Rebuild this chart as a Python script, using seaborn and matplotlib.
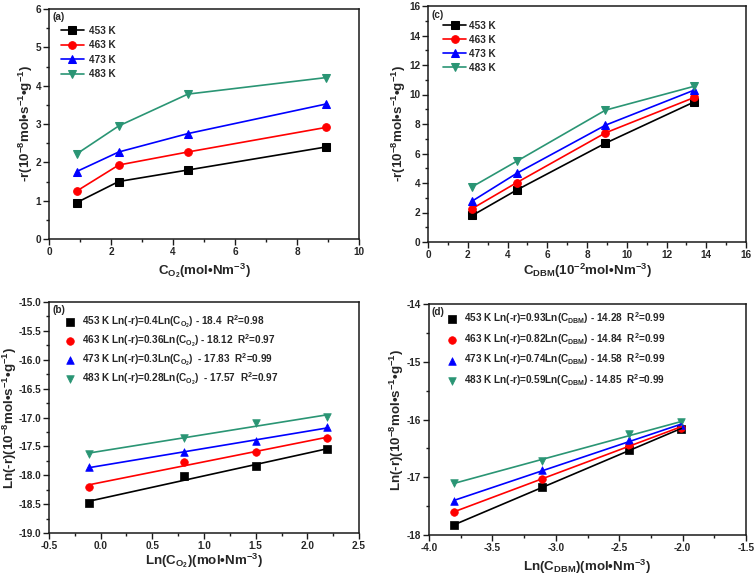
import matplotlib
matplotlib.use("Agg")
import matplotlib.pyplot as plt
import seaborn as sns
import numpy as np
from matplotlib.ticker import MultipleLocator, FormatStrFormatter

sns.set_theme(style="ticks")
plt.rcParams["font.family"] = ["Liberation Sans", "DejaVu Sans"]
plt.rcParams["font.weight"] = "bold"
plt.rcParams["mathtext.fontset"] = "custom"
plt.rcParams["mathtext.rm"] = "Liberation Sans:bold"
plt.rcParams["mathtext.it"] = "Liberation Sans:bold"
plt.rcParams["mathtext.bf"] = "Liberation Sans:bold"
plt.rcParams["mathtext.default"] = "rm"

# ---------------- data ----------------
temps = ["453 K", "463 K", "473 K", "483 K"]
colors = ["#000000", "#ff0000", "#0000ff", "#2a9574"]
markers = ["s", "o", "^", "v"]

c_o2 = [0.893, 2.25, 4.48, 8.93]
rate_o2_453 = [0.95, 1.50, 1.80, 2.40]
rate_o2_463 = [1.25, 1.93, 2.27, 2.91]
rate_o2_473 = [1.76, 2.27, 2.75, 3.52]
rate_o2_483 = [2.22, 2.95, 3.78, 4.21]

c_dbm = [2.23, 4.47, 8.93, 13.4]
rate_dbm_453 = [1.80, 3.53, 6.70, 9.50]
rate_dbm_463 = [2.27, 4.03, 7.40, 9.80]
rate_dbm_473 = [2.78, 4.66, 7.92, 10.30]
rate_dbm_483 = [3.75, 5.48, 8.94, 10.56]

ln_c_o2 = [-0.11, 0.81, 1.50, 2.19]
lnr_o2_453 = [-18.48, -18.02, -17.84, -17.55]
lnr_o2_463 = [-18.20, -17.77, -17.60, -17.36]
lnr_o2_473 = [-17.86, -17.60, -17.40, -17.17]
lnr_o2_483 = [-17.63, -17.35, -17.10, -16.99]

ln_c_dbm = [-3.80, -3.11, -2.42, -2.01]
lnr_dbm_453 = [-17.83, -17.17, -16.52, -16.17]
lnr_dbm_463 = [-17.60, -17.03, -16.44, -16.14]
lnr_dbm_473 = [-17.41, -16.88, -16.36, -16.10]
lnr_dbm_483 = [-17.10, -16.71, -16.25, -16.05]

eq_b = [
    r"453 K Ln(-r)=0.4Ln(C$_{O_2}$) - 18.4  R$^2$=0.98",
    r"463 K Ln(-r)=0.36Ln(C$_{O_2}$) - 18.12  R$^2$=0.97",
    r"473 K Ln(-r)=0.3Ln(C$_{O_2}$)  - 17.83  R$^2$=0.99",
    r"483 K Ln(-r)=0.28Ln(C$_{O_2}$)  - 17.57  R$^2$=0.97",
]
eq_d = [
    r"453 K Ln(-r)=0.93Ln(C$_{DBM}$) - 14.28  R$^2$=0.99",
    r"463 K Ln(-r)=0.82Ln(C$_{DBM}$) - 14.84  R$^2$=0.99",
    r"473 K Ln(-r)=0.74Ln(C$_{DBM}$) - 14.58  R$^2$=0.99",
    r"483 K Ln(-r)=0.59Ln(C$_{DBM}$) - 14.85  R$^2$=0.99",
]

rates_o2 = [rate_o2_453, rate_o2_463, rate_o2_473, rate_o2_483]
rates_dbm = [rate_dbm_453, rate_dbm_463, rate_dbm_473, rate_dbm_483]
lnr_o2 = [lnr_o2_453, lnr_o2_463, lnr_o2_473, lnr_o2_483]
lnr_dbm = [lnr_dbm_453, lnr_dbm_463, lnr_dbm_473, lnr_dbm_483]

W, H = 756, 575
fig = plt.figure(figsize=(W / 100, H / 100), dpi=100)


def box(l, r, t, b):
    return [l / W, (H - b) / H, (r - l) / W, (b - t) / H]


ax_a = fig.add_axes(box(49, 359, 9, 239))
ax_c = fig.add_axes(box(428, 746, 6, 242))
ax_b = fig.add_axes(box(49, 359, 302, 533))
ax_d = fig.add_axes(box(429, 746, 304, 535))

TICK = 7.2
LAB = 9.6


def style(ax, ylx, xly):
    for s in ax.spines.values():
        s.set_linewidth(1.1)
        s.set_color("#1a1a1a")
    ax.tick_params(which="major", direction="out", length=4, width=1.0,
                   labelsize=TICK, top=False, right=False, pad=1.5,
                   color="#1a1a1a")
    ax.tick_params(which="minor", direction="out", length=2.5, width=1.0,
                   top=False, right=False, color="#1a1a1a")
    for lab in ax.get_xticklabels() + ax.get_yticklabels():
        lab.set_fontweight("bold")
    ax.yaxis.set_label_coords(ylx, 0.5)
    ax.xaxis.set_label_coords(0.5, xly)


ylab_rate = r"-r(10$^{-8}$mol•s$^{-1}$•g$^{-1}$)"
ylab_ln = r"Ln(-r)(10$^{-8}$mol•s$^{-1}$•g$^{-1}$)"
leg_prop = {"weight": "bold", "size": TICK}

# ---- (a) ----
for lab, col, mk, y in zip(temps, colors, markers, rates_o2):
    sns.lineplot(x=c_o2, y=y, color=col, marker=mk, markersize=5.5,
                 markeredgecolor=col, linewidth=1.2, label=lab, ax=ax_a)
ax_a.set_xlim(0, 10)
ax_a.set_ylim(0, 6)
ax_a.xaxis.set_major_locator(MultipleLocator(2))
ax_a.xaxis.set_minor_locator(MultipleLocator(1))
ax_a.yaxis.set_major_locator(MultipleLocator(1))
ax_a.yaxis.set_minor_locator(MultipleLocator(0.5))
ax_a.set_xlabel(r"C$_{O_2}$(mol•Nm$^{-3}$)", fontsize=LAB, fontweight="bold")
ax_a.set_ylabel(ylab_rate, fontsize=LAB, fontweight="bold")
ax_a.legend(loc="upper left", bbox_to_anchor=(0.025, 0.945), frameon=False,
            handlelength=2.3, handletextpad=0.55,
            labelspacing=0.45, borderaxespad=0, prop=leg_prop)
ax_a.text(0.012, 0.985, "(a)", transform=ax_a.transAxes, fontsize=TICK,
          fontweight="bold", va="top", ha="left")
style(ax_a, -0.045, -0.095)

# ---- (c) ----
for lab, col, mk, y in zip(temps, colors, markers, rates_dbm):
    sns.lineplot(x=c_dbm, y=y, color=col, marker=mk, markersize=5.5,
                 markeredgecolor=col, linewidth=1.2, label=lab, ax=ax_c)
ax_c.set_xlim(0, 16)
ax_c.set_ylim(0, 16)
ax_c.xaxis.set_major_locator(MultipleLocator(2))
ax_c.xaxis.set_minor_locator(MultipleLocator(1))
ax_c.yaxis.set_major_locator(MultipleLocator(2))
ax_c.yaxis.set_minor_locator(MultipleLocator(1))
ax_c.set_xlabel(r"C$_{DBM}$(10$^{-2}$mol•Nm$^{-3}$)", fontsize=LAB, fontweight="bold")
ax_c.set_ylabel(ylab_rate, fontsize=LAB, fontweight="bold")
ax_c.legend(loc="upper left", bbox_to_anchor=(0.035, 0.955), frameon=False,
            handlelength=2.3, handletextpad=0.3,
            labelspacing=0.4, borderaxespad=0, prop=leg_prop)
ax_c.text(0.012, 0.985, "(c)", transform=ax_c.transAxes, fontsize=TICK,
          fontweight="bold", va="top", ha="left")
style(ax_c, -0.062, -0.085)

# ---- (b) ----
for lab, col, mk, y in zip(eq_b, colors, markers, lnr_o2):
    sns.regplot(x=ln_c_o2, y=y, ci=None, scatter=False, color=col,
                line_kws={"linewidth": 1.2}, ax=ax_b)
    sns.scatterplot(x=ln_c_o2, y=y, color=col, marker=mk, s=30,
                    edgecolor=col, linewidth=0.5, label=lab, ax=ax_b)
ax_b.set_xlim(-0.5, 2.5)
ax_b.set_ylim(-19, -15)
ax_b.xaxis.set_major_locator(MultipleLocator(0.5))
ax_b.xaxis.set_minor_locator(MultipleLocator(0.25))
ax_b.yaxis.set_major_locator(MultipleLocator(0.5))
ax_b.yaxis.set_minor_locator(MultipleLocator(0.25))
ax_b.yaxis.set_major_formatter(FormatStrFormatter("%.1f"))
ax_b.xaxis.set_major_formatter(FormatStrFormatter("%.1f"))
ax_b.set_xlabel(r"Ln(C$_{O_2}$)(mol•Nm$^{-3}$)", fontsize=LAB, fontweight="bold")
ax_b.set_ylabel(ylab_ln, fontsize=LAB, fontweight="bold")
ax_b.legend(loc="upper left", bbox_to_anchor=(0.035, 0.97), frameon=False,
            handlelength=1.2, handletextpad=0.6,
            labelspacing=0.22, borderaxespad=0, prop=leg_prop)
ax_b.text(0.012, 0.985, "(b)", transform=ax_b.transAxes, fontsize=TICK,
          fontweight="bold", va="top", ha="left")
style(ax_b, -0.097, -0.078)

# ---- (d) ----
for lab, col, mk, y in zip(eq_d, colors, markers, lnr_dbm):
    sns.regplot(x=ln_c_dbm, y=y, ci=None, scatter=False, color=col,
                line_kws={"linewidth": 1.2}, ax=ax_d)
    sns.scatterplot(x=ln_c_dbm, y=y, color=col, marker=mk, s=30,
                    edgecolor=col, linewidth=0.5, label=lab, ax=ax_d)
ax_d.set_xlim(-4.0, -1.5)
ax_d.set_ylim(-18, -14)
ax_d.xaxis.set_major_locator(MultipleLocator(0.5))
ax_d.xaxis.set_minor_locator(MultipleLocator(0.25))
ax_d.yaxis.set_major_locator(MultipleLocator(1))
ax_d.yaxis.set_minor_locator(MultipleLocator(0.5))
ax_d.xaxis.set_major_formatter(FormatStrFormatter("%.1f"))
ax_d.yaxis.set_major_formatter(FormatStrFormatter("%d"))
ax_d.set_xlabel(r"Ln(C$_{DBM}$)(mol•Nm$^{-3}$)", fontsize=LAB, fontweight="bold")
ax_d.set_ylabel(ylab_ln, fontsize=LAB, fontweight="bold")
ax_d.legend(loc="upper left", bbox_to_anchor=(0.04, 0.99), frameon=False,
            handlelength=1.2, handletextpad=0.6,
            labelspacing=0.48, borderaxespad=0, prop=leg_prop)
ax_d.text(0.008, 0.985, "(d)", transform=ax_d.transAxes, fontsize=TICK,
          fontweight="bold", va="top", ha="left")
style(ax_d, -0.072, -0.10)

fig.savefig("out.png", dpi=100)
